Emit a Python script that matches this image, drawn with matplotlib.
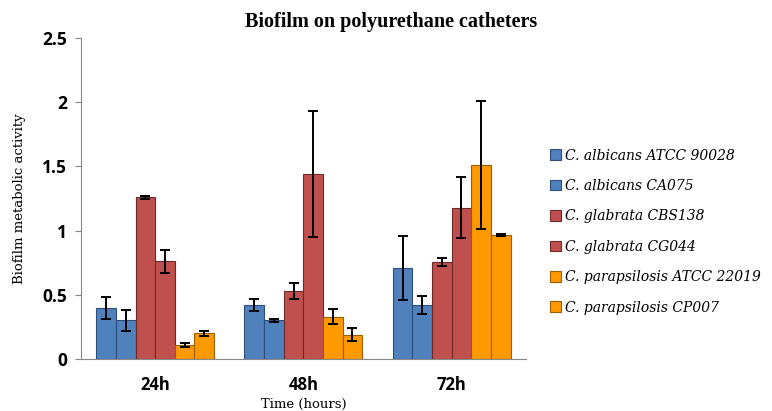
import numpy as np
import matplotlib.pyplot as plt

times = ["24h", "48h", "72h"]
strains = ["C. albicans ATCC 90028", "C. albicans CA075",
           "C. glabrata CBS138", "C. glabrata CG044",
           "C. parapsilosis ATCC 22019", "C. parapsilosis CP007"]

albicans_90028 = [0.40, 0.42, 0.71]
albicans_ca075 = [0.30, 0.30, 0.42]
glabrata_cbs138 = [1.26, 0.53, 0.755]
glabrata_cg044 = [0.76, 1.44, 1.18]
parap_22019 = [0.11, 0.33, 1.51]
parap_cp007 = [0.20, 0.19, 0.965]

err_albicans_90028 = [0.085, 0.045, 0.25]
err_albicans_ca075 = [0.08, 0.015, 0.07]
err_glabrata_cbs138 = [0.012, 0.06, 0.03]
err_glabrata_cg044 = [0.09, 0.49, 0.24]
err_parap_22019 = [0.015, 0.058, 0.50]
err_parap_cp007 = [0.02, 0.05, 0.008]

values = [albicans_90028, albicans_ca075, glabrata_cbs138,
          glabrata_cg044, parap_22019, parap_cp007]
errors = [err_albicans_90028, err_albicans_ca075, err_glabrata_cbs138,
          err_glabrata_cg044, err_parap_22019, err_parap_cp007]

colors = ["#4F81BD", "#4F81BD", "#C0504D", "#C0504D", "#FF9900", "#FF9900"]
edges = ["#2F4F7A", "#2F4F7A", "#6E2A28", "#6E2A28", "#9A6000", "#9A6000"]

fig = plt.figure(figsize=(7.72, 4.11), dpi=100)
ax = fig.add_axes([0.105, 0.1265, 0.576, 0.781])

x = np.arange(len(times))
w = 0.1325
for i in range(len(strains)):
    ax.bar(x + (i - 2.5) * w, values[i], w, color=colors[i], edgecolor=edges[i],
           linewidth=0.8, label=strains[i],
           yerr=errors[i], capsize=3.5,
           error_kw=dict(ecolor="black", elinewidth=1.4, capthick=1.4))

ax.set_xlim(-0.5, 2.5)
ax.set_ylim(0, 2.5)
ax.set_yticks([0, 0.5, 1, 1.5, 2, 2.5])
ax.set_yticklabels(["0", "0.5", "1", "1.5", "2", "2.5"],
                   fontfamily="Open Sans", fontweight="bold", fontsize=12.5)
ax.set_xticks(x)
ax.set_xticklabels(times, fontfamily="Open Sans", fontweight="bold", fontsize=12)
ax.tick_params(axis="x", length=0, pad=12)
ax.tick_params(axis="y", length=4, color="#888888", pad=6)
for s in ["top", "right"]:
    ax.spines[s].set_visible(False)
for s in ["left", "bottom"]:
    ax.spines[s].set_color("#888888")

ax.set_ylabel("Biofilm metabolic activity", fontfamily="DejaVu Serif", fontsize=9.5, labelpad=12)
ax.set_xlabel("Time (hours)", fontfamily="DejaVu Serif", fontsize=9.5, labelpad=3)
fig.suptitle("Biofilm on polyurethane catheters", fontfamily="Liberation Serif",
             fontweight="bold", fontsize=14.5, x=0.507, y=0.97)

fig.legend(loc="upper left", bbox_to_anchor=(0.705, 0.652), frameon=False,
           prop=dict(family="DejaVu Serif", style="italic", size=10),
           handlelength=0.8, handleheight=0.8, handletextpad=0.3,
           labelspacing=1.18, borderaxespad=0)

fig.savefig("out.png", dpi=100)
